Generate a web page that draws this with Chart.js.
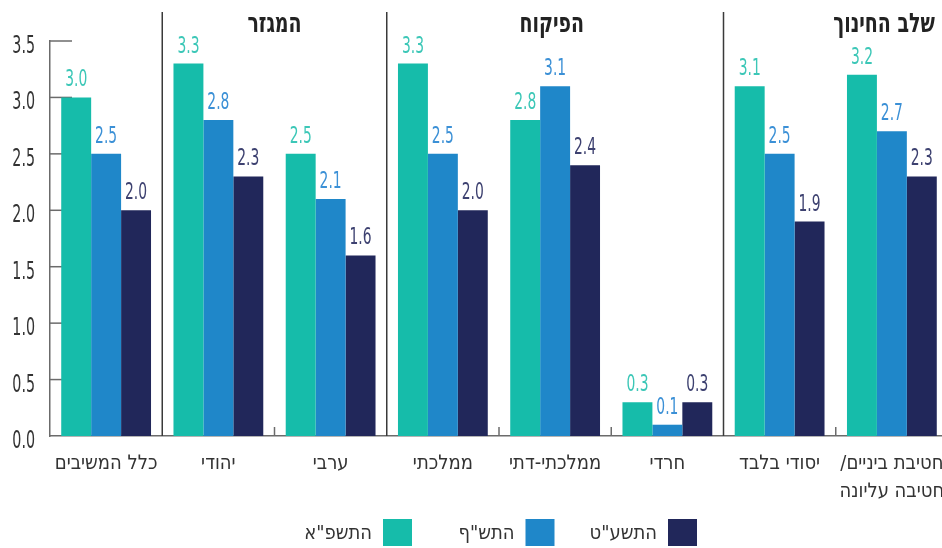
<!DOCTYPE html>
<html lang="he">
<head>
    <meta charset="UTF-8">
    <title>Chart</title>
    <script src="https://cdn.jsdelivr.net/npm/chart.js"></script>
    <style>
        body { margin: 0; overflow: hidden; background: #fff; }
        .chart-container { position: relative; width: 948px; height: 548px; }
    </style>
</head>
<body>
    <div class="chart-container">
        <canvas id="mainChart"></canvas>
    </div>
    <script>
        const FONT = "'DejaVu Sans Condensed', 'Liberation Sans', sans-serif";

        // Data
        const categories = [
            'כלל המשיבים', 'יהודי', 'ערבי', 'ממלכתי', 'ממלכתי-דתי', 'חרדי', 'יסודי בלבד',
            ['/חטיבת ביניים', 'חטיבה עליונה']
        ];
        const seriesNames = ['התשפ"א', 'התש"ף', 'התשע"ט'];
        const values2021 = [3.0, 3.3, 2.5, 3.3, 2.8, 0.3, 3.1, 3.2];
        const values2020 = [2.5, 2.8, 2.1, 2.5, 3.1, 0.1, 2.5, 2.7];
        const values2019 = [2.0, 2.3, 1.6, 2.0, 2.4, 0.3, 1.9, 2.3];
        const yTicks = [0, 0.5, 1.0, 1.5, 2.0, 2.5, 3.0, 3.5];

        // group headers: text + centre (category index), separators after index
        const groupNames = ['המגזר', 'הפיקוח', 'שלב החינוך'];
        const groupCentres = [1.5, 3.97, 6.93];
        const separators = [1, 3, 6];

        const barColors = ['#16bcaa', '#1f87c9', '#21275a'];
        const labelColors = ['#3cc7b7', '#3b90d6', '#3d4170'];

        // narrow text helper (reference uses a condensed face)
        function narrowText(ctx, text, x, y, sx, align) {
            ctx.save();
            ctx.translate(x, y);
            ctx.scale(sx, 1);
            ctx.textAlign = align;
            ctx.fillText(text, 0, 0);
            ctx.restore();
        }

        const decorPlugin = {
            id: 'decor',
            beforeDatasetsDraw(chart) {
                const ctx = chart.ctx;
                const x = chart.scales.x, y = chart.scales.y;
                const area = chart.chartArea;
                ctx.save();
                // y ticks pointing inward + tick labels
                ctx.strokeStyle = '#6b6b6b';
                ctx.lineWidth = 1.5;
                ctx.fillStyle = '#333';
                ctx.font = '24px ' + FONT;
                ctx.textBaseline = 'alphabetic';
                yTicks.forEach(v => {
                    const py = y.getPixelForValue(v);
                    if (v !== 0) {
                        ctx.beginPath();
                        ctx.moveTo(area.left, py);
                        ctx.lineTo(area.left + 22, py);
                        ctx.stroke();
                    }
                    narrowText(ctx, v.toFixed(1), area.left - 15, py + 12, 0.66, 'right');
                });
                // small boundary ticks on x axis
                for (let i = 1; i < categories.length; i++) {
                    if (separators.includes(i)) continue;
                    const px = (x.getPixelForValue(i - 1) + x.getPixelForValue(i)) / 2;
                    ctx.beginPath();
                    ctx.moveTo(px, area.bottom);
                    ctx.lineTo(px, area.bottom - 9);
                    ctx.stroke();
                }
                ctx.restore();
            },
            afterDatasetsDraw(chart) {
                const ctx = chart.ctx;
                const x = chart.scales.x;
                const area = chart.chartArea;
                ctx.save();
                // group separators
                ctx.strokeStyle = '#3a3a3a';
                ctx.lineWidth = 1.5;
                separators.forEach(i => {
                    const px = (x.getPixelForValue(i - 1) + x.getPixelForValue(i)) / 2;
                    ctx.beginPath();
                    ctx.moveTo(px, 12);
                    ctx.lineTo(px, area.bottom);
                    ctx.stroke();
                });
                // group headers
                ctx.fillStyle = '#222';
                ctx.font = 'bold 27px ' + FONT;
                ctx.textBaseline = 'alphabetic';
                groupNames.forEach((name, i) => {
                    narrowText(ctx, name, x.getPixelForValue(groupCentres[i]), 32, 0.78, 'center');
                });
                // value labels
                ctx.font = '23px ' + FONT;
                chart.data.datasets.forEach((ds, di) => {
                    const meta = chart.getDatasetMeta(di);
                    ctx.fillStyle = labelColors[di];
                    meta.data.forEach((bar, j) => {
                        narrowText(ctx, ds.data[j].toFixed(1), bar.x, bar.y - 11, 0.67, 'center');
                    });
                });
                // legend (box right of text)
                ctx.font = '20px ' + FONT;
                chart.data.datasets.forEach((ds, di) => {
                    const bx = 383 + di * 142.5;
                    ctx.fillStyle = ds.backgroundColor;
                    ctx.fillRect(bx, 519, 29, 27);
                    ctx.fillStyle = '#333';
                    ctx.textAlign = 'right';
                    ctx.fillText(ds.label, bx - 11, 539);
                });
                ctx.restore();
            }
        };

        const ctx = document.getElementById('mainChart').getContext('2d');
        new Chart(ctx, {
            type: 'bar',
            data: {
                labels: categories,
                datasets: [
                    { label: seriesNames[0], data: values2021, backgroundColor: barColors[0] },
                    { label: seriesNames[1], data: values2020, backgroundColor: barColors[1] },
                    { label: seriesNames[2], data: values2019, backgroundColor: barColors[2] }
                ]
            },
            options: {
                responsive: true,
                maintainAspectRatio: false,
                animation: false,
                datasets: {
                    bar: { categoryPercentage: 0.8, barPercentage: 1.0 }
                },
                layout: { padding: { top: 41, right: 0, bottom: 0, left: 0 } },
                plugins: {
                    tooltip: { enabled: false },
                    legend: { display: false }
                },
                scales: {
                    x: {
                        grid: { display: false, drawTicks: false },
                        border: { display: true, color: '#6b6b6b', width: 1.5 },
                        ticks: {
                            color: '#333',
                            padding: 14,
                            maxRotation: 0,
                            autoSkip: false,
                            font: { family: FONT, size: 20, lineHeight: 1.4 }
                        },
                        afterFit: s => {
                            s.height = 112;
                            s.paddingLeft = 0;
                            s.paddingRight = 0;
                        }
                    },
                    y: {
                        min: 0,
                        max: 3.5,
                        grid: { display: false, drawTicks: false },
                        border: { display: true, color: '#6b6b6b', width: 1.5 },
                        ticks: { display: false, stepSize: 0.5 },
                        afterFit: s => { s.width = 50; }
                    }
                }
            },
            plugins: [decorPlugin]
        });
    </script>
</body>
</html>
